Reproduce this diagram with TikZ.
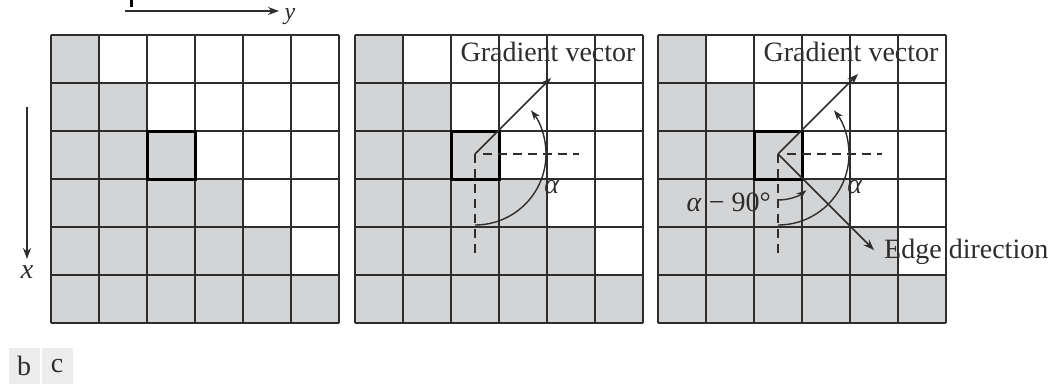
\documentclass[tikz,border=0pt]{standalone}
\usepackage{fontspec}
\setmainfont{Liberation Serif}
\usetikzlibrary{arrows.meta, positioning, calc}
\definecolor{cellgray}{RGB}{211,212,214}
\definecolor{inkgray}{RGB}{45,45,45}

\begin{document}
\begin{tikzpicture}[x=1pt, y=-1pt, font=\fontsize{28}{32}\selectfont,
    line/.style={draw=inkgray, line width=1.7pt},
    thickcell/.style={draw=black, line width=3pt},
    guide/.style={draw=inkgray, line width=1.4pt, dash pattern=on 9pt off 6pt},
    arrow/.style={-{Stealth[length=11pt,width=8pt]}, line width=1.6pt, draw=inkgray},
    angarc/.style={-{Stealth[length=10pt,width=7pt]}, line width=1.4pt, draw=inkgray},
    lbl/.style={text=inkgray, inner sep=0pt},
    tag/.style={fill=gray!15, text=inkgray, minimum width=31pt, minimum height=36pt, inner sep=0pt}
]
\useasboundingbox (0,0) rectangle (1059,384);
% three pixel grids
\foreach \p/\ox in {1/51,2/355,3/658} {
  \begin{scope}[shift={(\ox,35)}]
    \foreach \r in {0,...,5}
      \fill[cellgray] (0,\r*48) rectangle ({(\r+1)*48},{(\r+1)*48});
    \foreach \i in {0,...,6} {
      \draw[line] (\i*48,0) -- (\i*48,288);
      \draw[line] (0,\i*48) -- (288,\i*48);
    }
    \draw[thickcell] (96,96) rectangle (144,144);
    \coordinate (o\p) at (120,119);
  \end{scope}
}
% axes
\coordinate (tk1) at (131,0);
\coordinate (tk2) at (131,7);
\draw[line width=3pt] (tk1) -- (tk2);
\coordinate (ys) at (125,11);
\coordinate (ye) at (279,11);
\draw[arrow] (ys) -- (ye);
\node[lbl, anchor=base, font=\fontsize{24}{28}\selectfont] (ylab) at (290,19) {\textit{y}};
\coordinate (xs) at (27,107);
\coordinate (xe) at (27,259);
\draw[arrow] (xs) -- (xe);
\node[lbl] (xlab) at (27,272) {\textit{x}};
% panel b
\coordinate (g2) at ($(o2)+(76,-76)$);
\draw[arrow] (o2) -- (g2);
\node[lbl] (gv2) at (548,52) {Gradient vector};
\coordinate (h2a) at ($(o2)+(8,0)$);
\coordinate (h2b) at ($(o2)+(104,0)$);
\draw[guide] (h2a) -- (h2b);
\coordinate (v2) at ($(o2)+(0,104)$);
\draw[guide] (o2) -- (v2);
\draw[angarc] ($(o2)+(0,71)$) arc[start angle=90, end angle=-38, radius=71];
\node[lbl] (a2) at ($(o2)+(77,33)$) {\textit{α}};
% panel c
\coordinate (g3) at ($(o3)+(80,-80)$);
\coordinate (e3) at ($(o3)+(96,96)$);
\draw[arrow] (o3) -- (g3);
\draw[arrow] (o3) -- (e3);
\node[lbl] (gv3) at (851,52) {Gradient vector};
\node[lbl, anchor=west] (ed3) at ($(e3)+(10,2)$) {Edge direction};
\coordinate (h3a) at ($(o3)+(9,0)$);
\coordinate (h3b) at ($(o3)+(104,0)$);
\draw[guide] (h3a) -- (h3b);
\coordinate (v3) at ($(o3)+(0,104)$);
\draw[guide] (o3) -- (v3);
\draw[angarc] ($(o3)+(0,71)$) arc[start angle=90, end angle=-38, radius=71];
\draw[angarc] ($(o3)+(0,46)$) arc[start angle=90, end angle=52, radius=46];
\node[lbl] (a3) at ($(o3)+(77,33)$) {\textit{α}};
\node[lbl, anchor=east] (b3) at ($(o3)+(-7,48)$) {\textit{α} − 90°};
% sub-figure tags
\node[tag] (tb) at (24,366) {b};
\node[tag] (tc) at (57,366) {c};
\end{tikzpicture}
\end{document}
